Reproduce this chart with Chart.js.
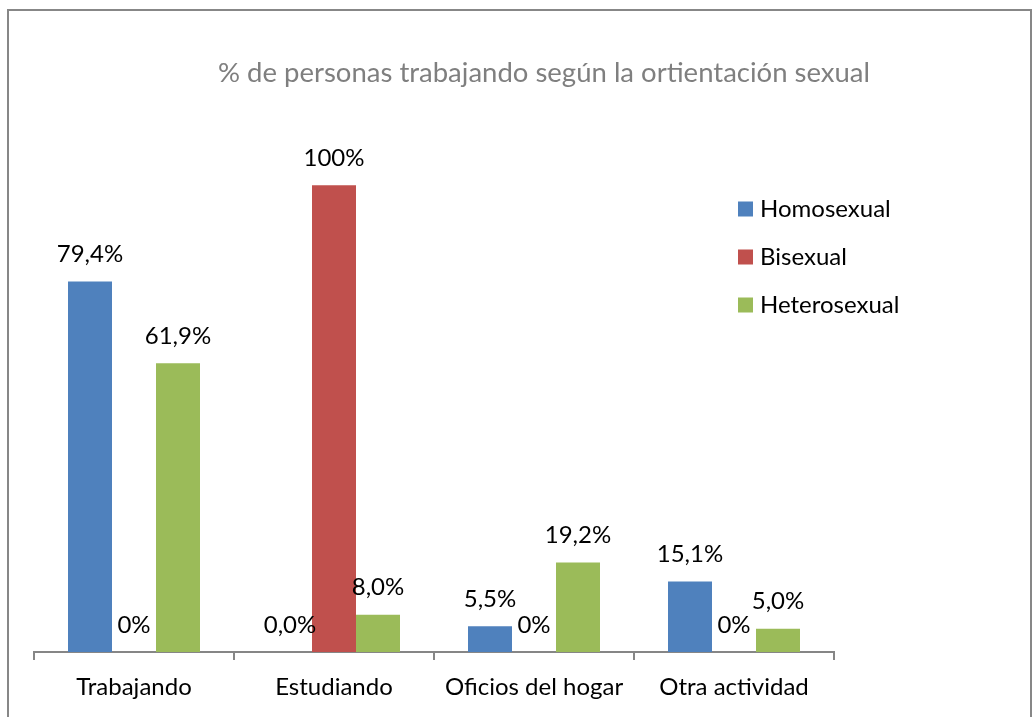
<!DOCTYPE html>
<html>
<head>
<meta charset="utf-8">
<title>% de personas trabajando</title>
<script src="https://cdn.jsdelivr.net/npm/chart.js@4.4.1/dist/chart.umd.min.js"></script>
<style>
	html, body { margin: 0; padding: 0; background: #fff; overflow: hidden; }
	#wrap { position: relative; width: 1034px; height: 717px; }
	#frame {
		position: absolute; left: 7px; top: 9px; width: 1025px; height: 730px;
		border: 2px solid #878787; box-sizing: border-box; pointer-events: none;
	}
</style>
</head>
<body>
<div id="wrap">
	<canvas id="activityChart" width="1034" height="717"></canvas>
	<div id="frame"></div>
</div>
<script>
var chartTitle = '% de personas trabajando según la ortientación sexual';
var categories = ['Trabajando', 'Estudiando', 'Oficios del hogar', 'Otra actividad'];
var seriesNames = ['Homosexual', 'Bisexual', 'Heterosexual'];
var homosexual = [79.4, 0.0, 5.5, 15.1];
var bisexual = [0, 100, 0, 0];
var heterosexual = [61.9, 8.0, 19.2, 5.0];
var homosexualLabels = ['79,4%', '0,0%', '5,5%', '15,1%'];
var bisexualLabels = ['0%', '100%', '0%', '0%'];
var heterosexualLabels = ['61,9%', '8,0%', '19,2%', '5,0%'];
var seriesColors = ['#4F81BD', '#C0504D', '#9BBB59'];

(function(window, document, undefined) {
	document.addEventListener('DOMContentLoaded', function() {
		var fontFamily = 'Lato, "Open Sans", sans-serif';
		var allLabels = [homosexualLabels, bisexualLabels, heterosexualLabels];

		// title is centred on the whole frame, not on the plot
		var frameTitle = {
			id: 'frameTitle',
			afterDraw: function(chart) {
				var ctx = chart.ctx;
				ctx.save();
				ctx.font = '27.5px ' + fontFamily;
				ctx.fillStyle = '#7F7F7F';
				ctx.textAlign = 'center';
				ctx.textBaseline = 'middle';
				ctx.fillText(chartTitle, 544, 73);
				ctx.restore();
			}
		};

		// value labels above each bar
		var barLabels = {
			id: 'barLabels',
			afterDatasetsDraw: function(chart) {
				var ctx = chart.ctx;
				ctx.save();
				ctx.font = '24px ' + fontFamily;
				ctx.fillStyle = '#000';
				ctx.textAlign = 'center';
				ctx.textBaseline = 'middle';
				chart.data.datasets.forEach(function(ds, i) {
					var meta = chart.getDatasetMeta(i);
					meta.data.forEach(function(bar, j) {
						ctx.fillText(allLabels[i][j], bar.x, bar.y - 27);
					});
				});
				ctx.restore();
			}
		};

		// legend sits inside the plot, so draw it by hand
		var sideLegend = {
			id: 'sideLegend',
			afterDraw: function(chart) {
				var ctx = chart.ctx;
				ctx.save();
				ctx.font = '24px ' + fontFamily;
				ctx.textBaseline = 'middle';
				ctx.textAlign = 'left';
				chart.data.datasets.forEach(function(ds, i) {
					var y = 209 + i * 48;
					ctx.fillStyle = ds.backgroundColor;
					ctx.fillRect(738, y - 7.5, 15, 15);
					ctx.fillStyle = '#000';
					ctx.fillText(ds.label, 760, y);
				});
				ctx.restore();
			}
		};

		var ctx = document.querySelector('#activityChart');
		var chart = new Chart(ctx, {
			type: 'bar',
			data: {
				labels: categories,
				datasets: [
					{ label: seriesNames[0], data: homosexual, backgroundColor: seriesColors[0] },
					{ label: seriesNames[1], data: bisexual, backgroundColor: seriesColors[1] },
					{ label: seriesNames[2], data: heterosexual, backgroundColor: seriesColors[2] }
				]
			},
			options: {
				responsive: false,
				animation: false,
				events: [],
				layout: {
					padding: { left: 34, right: 200, top: 92, bottom: 0 }
				},
				datasets: {
					bar: { categoryPercentage: 0.66, barPercentage: 1.0 }
				},
				plugins: {
					legend: { display: false },
					tooltip: { enabled: false },
					title: { display: false }
				},
				scales: {
					x: {
						border: { display: true, color: '#868686', width: 2 },
						grid: {
							display: true,
							drawOnChartArea: false,
							drawTicks: true,
							tickLength: 8,
							color: '#868686',
							lineWidth: 2
						},
						ticks: {
							color: '#000',
							padding: 13,
							font: { family: fontFamily, size: 24 }
						},
						afterFit: function(scale) {
							scale.height = 65;
						}
					},
					y: {
						display: false,
						min: 0,
						max: 120
					}
				}
			},
			plugins: [barLabels, sideLegend, frameTitle]
		});
	}, false);
})(window, document);
</script>
</body>
</html>
